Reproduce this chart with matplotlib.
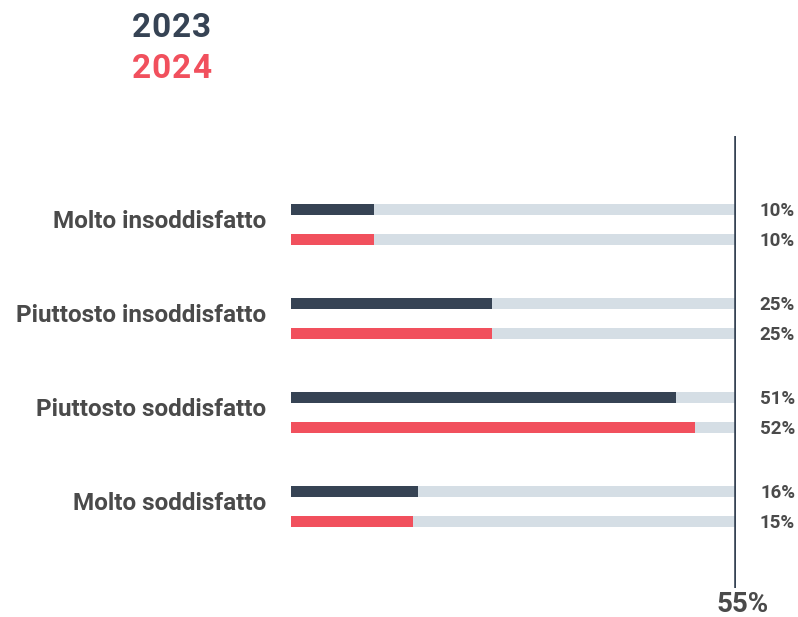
import numpy as np
import matplotlib
matplotlib.use("Agg")
import matplotlib.pyplot as plt

plt.rcParams['font.family'] = ['Roboto', 'DejaVu Sans']

# data
categories = ["Molto insoddisfatto", "Piuttosto insoddisfatto",
              "Piuttosto soddisfatto", "Molto soddisfatto"]
values_2023 = [10.2, 24.8, 47.6, 15.7]
values_2024 = [10.2, 24.8, 49.9, 15.1]
labels_2023 = ["10%", "25%", "51%", "16%"]
labels_2024 = ["10%", "25%", "52%", "15%"]
max_value = 55
years = ["2023", "2024"]

dark = "#364354"
red = "#F1505D"
track = "#D5DEE5"
txt = "#4A4A4A"

W, H = 798, 617
fig = plt.figure(figsize=(W / 100, H / 100), dpi=100)
# axes placed in pixel terms: x 291..736, y 136..588
ax = fig.add_axes([291 / W, 1 - 588 / H, (736 - 291) / W, (588 - 136) / H])
ax.set_xlim(0, max_value)
ax.set_ylim(3 + 82 / 94, -88 / 94)
ax.axis("off")

y = np.arange(len(categories))
off = 15 / 94
bh = 11 / 94

ax.barh(y - off, [max_value] * len(y), height=bh, color=track, zorder=1)
ax.barh(y + off, [max_value] * len(y), height=bh, color=track, zorder=1)
ax.barh(y - off, values_2023, height=bh, color=dark, zorder=2)
ax.barh(y + off, values_2024, height=bh, color=red, zorder=2)

ax.axvline(max_value, color=dark, lw=2.6, zorder=3)

px = max_value / (736 - 291)
for i in range(len(categories)):
    ax.text(-25 * px, y[i] - 0.03, categories[i], ha="right", va="center",
            fontsize=17.5, fontweight="bold", color=txt, clip_on=False)
    ax.text(max_value + 59 * px, y[i] - off + 0.025, labels_2023[i], ha="right",
            va="center", fontsize=13.5, fontweight="bold", color=txt, clip_on=False)
    ax.text(max_value + 59 * px, y[i] + off + 0.025, labels_2024[i], ha="right",
            va="center", fontsize=13.5, fontweight="bold", color=txt, clip_on=False)

ax.text(max_value + 7 * px, -17 / (588 - 136), f"{max_value}%",
        transform=ax.get_xaxis_transform(), ha="center", va="center",
        fontsize=20, fontweight="bold", color=txt, clip_on=False)

# year titles, letter spaced
for yr, col, yc in zip(years, [dark, red], [28, 69]):
    for k, ch in enumerate(yr):
        fig.text((141 + 20.3 * k) / W, 1 - yc / H, ch, ha="center", va="center",
                 fontsize=24, fontweight="bold", color=col)

fig.savefig("out.png", dpi=100)
